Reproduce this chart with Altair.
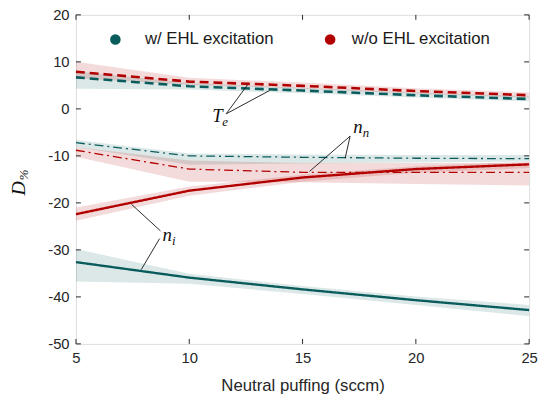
import altair as alt
import pandas as pd

# ---------------- data ----------------
puff = [5, 10, 15, 20, 25]
cases = ["w/ EHL excitation", "w/o EHL excitation"]

te_w = [6.7, 4.8, 3.9, 2.9, 2.1]
te_wo = [7.9, 5.8, 4.9, 3.8, 2.9]
nn_w = [-7.2, -10.0, -10.3, -10.5, -10.6]
nn_wo = [-8.8, -12.8, -13.5, -13.5, -13.5]
ni_w = [-32.6, -35.9, -38.4, -40.7, -42.8]
ni_wo = [-22.4, -17.4, -14.6, -12.8, -11.8]

te_w_lo = [4.3, 4.1, 3.3, 2.4, 1.6]
te_w_hi = [8.0, 5.5, 4.5, 3.5, 2.7]
te_wo_lo = [6.5, 5.1, 4.3, 3.2, 2.4]
te_wo_hi = [10.0, 6.6, 5.6, 4.4, 3.5]
nn_w_lo = [-8.1, -11.9, -11.6, -11.4, -11.2]
nn_w_hi = [-6.6, -9.5, -9.7, -9.8, -9.8]
nn_wo_lo = [-10.2, -15.5, -15.6, -16.0, -16.3]
nn_wo_hi = [-8.1, -11.0, -11.5, -11.5, -11.5]
ni_w_lo = [-36.7, -37.2, -39.4, -41.7, -44.1]
ni_w_hi = [-29.8, -35.1, -37.7, -39.9, -41.7]
ni_wo_lo = [-23.8, -18.5, -15.5, -13.6, -12.6]
ni_wo_hi = [-21.0, -16.5, -14.0, -12.2, -11.2]

x_ticks = [5, 10, 15, 20, 25]
y_ticks = [20, 10, 0, -10, -20, -30, -40, -50]

# annotation leader lines (data units): x, y, x2, y2
ann_x = [11.63, 11.63, 17.1, 17.1, 8.73, 8.69]
ann_y = [-1.05, -1.05, -5.8, -5.8, -25.96, -27.6]
ann_x2 = [12.57, 13.54, 15.31, 16.88, 7.45, 7.88]
ann_y2 = [5.1, 3.9, -13.3, -10.5, -20.3, -34.2]

lab_main = ["T", "n", "n"]
lab_sub = ["e", "n", "i"]
lab_x = [11.24, 17.44, 9.02]
lab_y = [-2.8, -5.1, -28.1]

TEAL = "#0a5c5c"
RED = "#b20000"
W, H = 460, 334

# ---------------- frames ----------------
def series(var, w, wo, wlo, whi, wolo, wohi):
    rows = []
    for c, v, lo, hi in [(cases[0], w, wlo, whi), (cases[1], wo, wolo, wohi)]:
        for xi, vi, l, h in zip(puff, v, lo, hi):
            rows.append({"puff": xi, "val": vi, "lo": l, "hi": h, "case": c, "var": var})
    return pd.DataFrame(rows)

df_te = series("Te", te_w, te_wo, te_w_lo, te_w_hi, te_wo_lo, te_wo_hi)
df_nn = series("nn", nn_w, nn_wo, nn_w_lo, nn_w_hi, nn_wo_lo, nn_wo_hi)
df_ni = series("ni", ni_w, ni_wo, ni_w_lo, ni_w_hi, ni_wo_lo, ni_wo_hi)
df_all = pd.concat([df_te, df_nn, df_ni])

xs = alt.Scale(domain=[5, 25], nice=False, zero=False)
ys = alt.Scale(domain=[-50, 20], nice=False, zero=False)
cs = alt.Scale(domain=cases, range=[TEAL, RED])

X = alt.X("puff:Q", scale=xs, axis=alt.Axis(values=x_ticks, ticks=False, domain=False, grid=False,
                                            labelPadding=7, labelFontSize=15, labelFont="Liberation Sans",
                                            labelColor="#262626", title="Neutral puffing (sccm)",
                                            titleFontSize=17, titleFont="Liberation Sans",
                                            titleFontWeight="normal", titleColor="#262626",
                                            titlePadding=12, labelFlush=False,
                                            labelExpr="'' + datum.value"))
Y = alt.Y("val:Q", scale=ys, axis=alt.Axis(values=y_ticks, ticks=False, domain=False, grid=False,
                                           labelPadding=7, labelFontSize=15, labelFont="Liberation Sans",
                                           labelColor="#262626", title=None, labelFlush=False,
                                           labelExpr="'' + datum.value"))

bands = alt.Chart(df_all).mark_area(opacity=0.14, line=False).encode(
    x=alt.X("puff:Q", scale=xs),
    y=alt.Y("lo:Q", scale=ys),
    y2="hi:Q",
    color=alt.Color("case:N", scale=cs, legend=None),
    detail="var:N",
)

def line(df, dash, sw):
    return alt.Chart(df).mark_line(strokeDash=dash, strokeWidth=sw).encode(
        x=X, y=Y, color=alt.Color("case:N", scale=cs, legend=None), detail="case:N")

l_te = line(df_te, [9, 5], 2.6)
l_nn = line(df_nn, [9, 4, 2, 4], 1.3)
l_ni = line(df_ni, [1, 0], 2.4)

# legend (drawn as key symbols + labels)
def legend_entry(i, sx, tx):
    d = pd.DataFrame({"case": [cases[i]]})
    sym = alt.Chart(d).mark_point(filled=True, size=115, opacity=1, shape="circle",
                                  color=[TEAL, RED][i]).encode(x=alt.value(sx), y=alt.value(25))
    txt = alt.Chart(d).mark_text(align="left", baseline="middle", fontSize=17,
                                 font="Liberation Sans", color="#1a1a1a").encode(
        x=alt.value(tx), y=alt.value(25), text="case:N")
    return sym + txt

leg1 = legend_entry(0, 40, 70)
leg2 = legend_entry(1, 258, 280)

ann_df = pd.DataFrame({"x": ann_x, "y": ann_y, "x2": ann_x2, "y2": ann_y2})
ann = alt.Chart(ann_df).mark_rule(color="#111111", strokeWidth=0.9).encode(
    x=alt.X("x:Q", scale=xs), y=alt.Y("y:Q", scale=ys), x2="x2:Q", y2="y2:Q")

lab_df = pd.DataFrame({"m": lab_main, "s": lab_sub, "x": lab_x, "y": lab_y})
lab_m = alt.Chart(lab_df).mark_text(font="Liberation Serif", fontStyle="italic", fontSize=19,
                                    baseline="alphabetic", align="center", color="#111111").encode(
    x=alt.X("x:Q", scale=xs), y=alt.Y("y:Q", scale=ys), text="m:N")
lab_s = alt.Chart(lab_df).mark_text(font="Liberation Serif", fontStyle="italic", fontSize=13,
                                    baseline="alphabetic", align="left", dx=5, dy=4,
                                    color="#111111").encode(
    x=alt.X("x:Q", scale=xs), y=alt.Y("y:Q", scale=ys), text="s:N")

# inward ticks on all four sides
xt = pd.DataFrame({"t": x_ticks})
yt = pd.DataFrame({"t": y_ticks})
tk = dict(color="#262626", strokeWidth=1)
tb = alt.Chart(xt).mark_rule(**tk).encode(x=alt.X("t:Q", scale=xs), y=alt.value(H), y2=alt.value(H - 5))
tt = alt.Chart(xt).mark_rule(**tk).encode(x=alt.X("t:Q", scale=xs), y=alt.value(0), y2=alt.value(5))
tl = alt.Chart(yt).mark_rule(**tk).encode(y=alt.Y("t:Q", scale=ys), x=alt.value(0), x2=alt.value(5))
tr = alt.Chart(yt).mark_rule(**tk).encode(y=alt.Y("t:Q", scale=ys), x=alt.value(W), x2=alt.value(W - 5))

ytitle_df = pd.DataFrame({"m": ["D"], "s": ["%"]})
yt_m = alt.Chart(ytitle_df).mark_text(font="Liberation Serif", fontStyle="italic", fontSize=20,
                                      angle=270, align="right", baseline="middle",
                                      color="#111111").encode(
    x=alt.value(-58), y=alt.value(H / 2 + 2), text="m:N")
yt_s = alt.Chart(ytitle_df).mark_text(font="Liberation Serif", fontStyle="italic", fontSize=13,
                                      angle=270, align="left", baseline="middle", dx=1, dy=5,
                                      color="#111111").encode(
    x=alt.value(-58), y=alt.value(H / 2 + 2), text="s:N")

chart = alt.layer(
    bands, l_te, l_nn, l_ni, leg1, leg2, ann, lab_m, lab_s, tb, tt, tl, tr, yt_m, yt_s
).properties(
    width=W, height=H,
    autosize=alt.AutoSizeParams(type="none"),
    padding={"left": 69, "top": 4, "right": 9, "bottom": 56},
).configure_view(
    stroke="#262626", strokeWidth=1
).configure(background="white")

chart.save("out.html", embed_options={"renderer": "svg", "actions": False})
